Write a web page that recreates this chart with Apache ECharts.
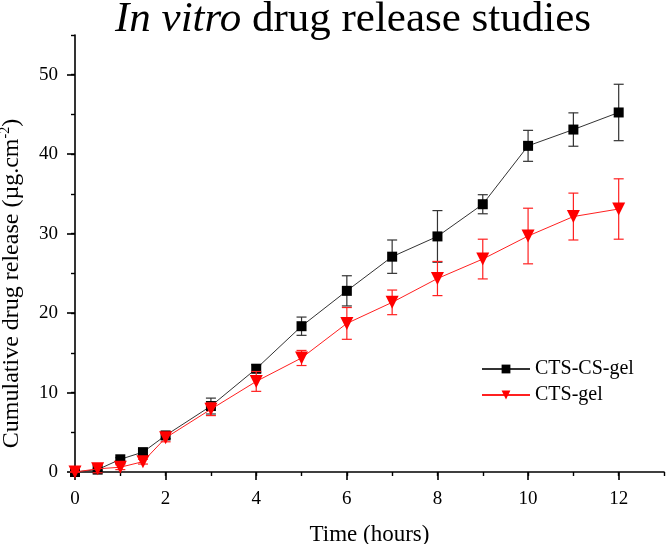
<!DOCTYPE html>
<html>
<head>
<meta charset="utf-8">
<script src="https://cdn.jsdelivr.net/npm/echarts@6/dist/echarts.min.js"></script>
<style>
  html, body { margin: 0; padding: 0; background: #fff; }
  #chart { width: 666px; height: 544px; }
</style>
</head>
<body>
<div id="chart"></div>
<script>
// time points (hours)
var hours = [0, 0.5, 1, 1.5, 2, 3, 4, 5, 6, 7, 8, 9, 10, 11, 12];
// CTS-CS-gel, mean and error
var ctsCsMean = [0, 0.3, 1.6, 2.5, 4.6, 8.3, 13.0, 18.35, 22.8, 27.1, 29.65, 33.7, 41.05, 43.1, 45.25];
var ctsCsErr  = [0, 0.1, 0.2, 0.3, 0.4, 1.0, 0.5, 1.15, 1.9, 2.1, 3.25, 1.2, 1.95, 2.1, 3.55];
// CTS-gel, mean and error
var ctsMean = [0, 0.4, 0.6, 1.3, 4.3, 7.9, 11.4, 14.35, 18.7, 21.35, 24.35, 26.8, 29.7, 32.15, 33.1];
var ctsErr  = [0, 0.5, 0.3, 0.3, 0.5, 0.8, 1.25, 0.95, 2.0, 1.55, 2.15, 2.5, 3.5, 2.95, 3.8];

var xTicks = [0, 2, 4, 6, 8, 10, 12];
var yTicks = [0, 10, 20, 30, 40, 50];

var serif = 'Liberation Serif';

function toPoints(m) {
  var out = [];
  for (var i = 0; i < hours.length; i++) out.push([hours[i], m[i]]);
  return out;
}
function toBars(m, e) {
  var out = [];
  for (var i = 0; i < hours.length; i++) out.push([hours[i], m[i] - e[i], m[i] + e[i]]);
  return out;
}

// vertical error bar with caps
function errorBar(color) {
  return function (params, api) {
    var lo = api.coord([api.value(0), api.value(1)]);
    var hi = api.coord([api.value(0), api.value(2)]);
    var w = 5;
    var st = { stroke: color, lineWidth: 1.2 };
    return {
      type: 'group',
      children: [
        { type: 'line', shape: { x1: lo[0], y1: lo[1], x2: hi[0], y2: hi[1] }, style: st },
        { type: 'line', shape: { x1: lo[0] - w, y1: lo[1], x2: lo[0] + w, y2: lo[1] }, style: st },
        { type: 'line', shape: { x1: hi[0] - w, y1: hi[1], x2: hi[0] + w, y2: hi[1] }, style: st }
      ]
    };
  };
}

var axisLineStyle = { color: '#000', width: 1.6 };

var option = {
  animation: false,
  backgroundColor: '#fff',
  title: {
    text: '{i|In vitro} drug release studies',
    left: 110,
    top: -7,
    textStyle: {
      fontFamily: serif,
      fontSize: 43,
      fontWeight: 'normal',
      color: '#000',
      rich: {
        i: { fontFamily: serif, fontSize: 43, fontStyle: 'italic', color: '#000' }
      }
    }
  },
  grid: { left: 75, right: 2, top: 35, bottom: 72, containLabel: false, outerBoundsMode: 'none' },
  legend: {
    left: 476,
    top: 354,
    orient: 'vertical',
    itemWidth: 48,
    itemHeight: 11,
    itemGap: 6,
    textStyle: { fontFamily: serif, fontSize: 20, color: '#000' },
    data: ['CTS-CS-gel', 'CTS-gel']
  },
  xAxis: [{
    type: 'value',
    min: 0,
    max: 13,
    interval: 2,
    name: 'Time (hours)',
    nameLocation: 'middle',
    nameGap: 51,
    nameTextStyle: { fontFamily: serif, fontSize: 23, color: '#000' },
    axisLine: { lineStyle: axisLineStyle },
    axisTick: { length: 8, customValues: xTicks, lineStyle: { color: '#000', width: 1.6 } },
    axisLabel: { customValues: xTicks, margin: 18, fontFamily: serif, fontSize: 19, color: '#000' },
    splitLine: { show: false }
  }, {
    type: 'value',
    position: 'bottom',
    min: 0,
    max: 13,
    interval: 1,
    axisLine: { show: false },
    axisTick: { length: 4, lineStyle: { color: '#000', width: 1.4 } },
    axisLabel: { show: false },
    splitLine: { show: false }
  }],
  yAxis: [{
    type: 'value',
    min: 0,
    max: 55,
    interval: 10,
    name: 'Cumulative drug release (\u00b5g.cm{sup|-2})',
    nameLocation: 'middle',
    nameGap: 49,
    nameTextStyle: {
      fontFamily: serif, fontSize: 24, color: '#000', lineHeight: 28,
      padding: [0, 60, 0, 0],
      rich: { sup: { fontFamily: serif, fontSize: 14, color: '#000', verticalAlign: 'top', lineHeight: 14 } }
    },
    axisLine: { lineStyle: axisLineStyle },
    axisTick: { length: 8, customValues: yTicks, lineStyle: { color: '#000', width: 1.6 } },
    axisLabel: { customValues: yTicks, margin: 17, fontFamily: serif, fontSize: 19, color: '#000' },
    splitLine: { show: false }
  }, {
    type: 'value',
    position: 'left',
    min: 0,
    max: 55,
    interval: 5,
    axisLine: { show: false },
    axisTick: { length: 4, lineStyle: { color: '#000', width: 1.4 } },
    axisLabel: { show: false },
    splitLine: { show: false }
  }],
  series: [
    {
      type: 'custom',
      renderItem: errorBar('#333'),
      data: toBars(ctsCsMean, ctsCsErr),
      encode: { x: 0, y: [1, 2] },
      z: 1,
      silent: true
    },
    {
      name: 'CTS-CS-gel',
      type: 'line',
      data: toPoints(ctsCsMean),
      symbol: 'rect',
      symbolSize: 10,
      itemStyle: { color: '#000' },
      lineStyle: { color: '#333', width: 1 },
      z: 2
    },
    {
      type: 'custom',
      renderItem: errorBar('#ff2020'),
      data: toBars(ctsMean, ctsErr),
      encode: { x: 0, y: [1, 2] },
      z: 3,
      silent: true
    },
    {
      name: 'CTS-gel',
      type: 'line',
      data: toPoints(ctsMean),
      symbol: 'triangle',
      symbolRotate: 180,
      symbolSize: 13,
      itemStyle: { color: '#ff0000' },
      lineStyle: { color: '#ff2020', width: 1 },
      z: 4
    }
  ]
};

var chart = echarts.init(document.getElementById('chart'));
chart.setOption(option);
</script>
</body>
</html>
